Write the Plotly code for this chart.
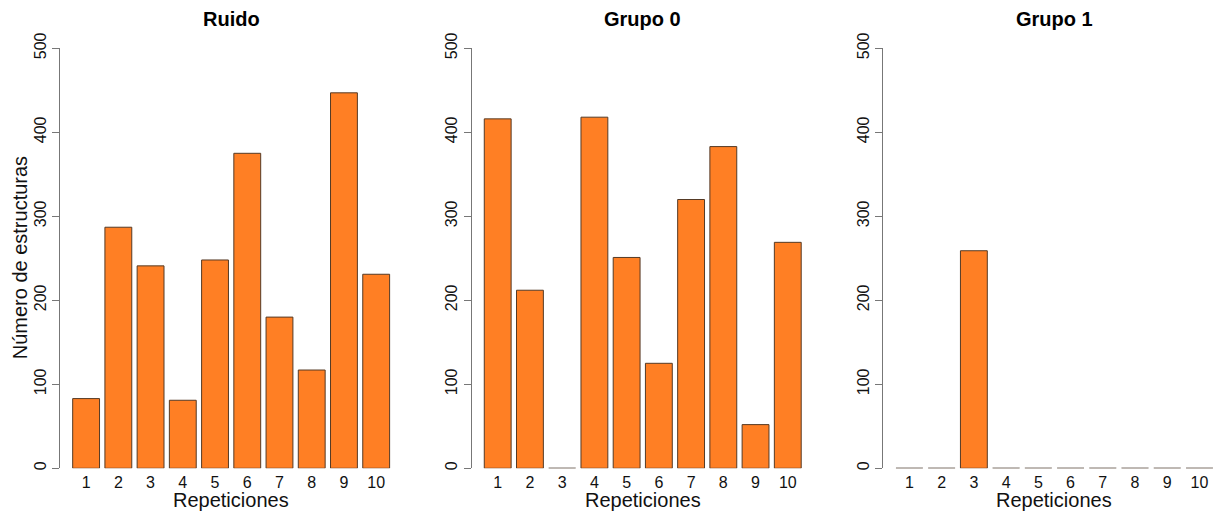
import plotly.graph_objects as go

W, H = 1222, 516

repeticiones = [1, 2, 3, 4, 5, 6, 7, 8, 9, 10]
ruido = [83, 287, 241, 81, 248, 375, 180, 117, 447, 231]
grupo0 = [416, 212, 0, 418, 251, 125, 320, 383, 52, 269]
grupo1 = [0, 0, 259, 0, 0, 0, 0, 0, 0, 0]
titles = ["Ruido", "Grupo 0", "Grupo 1"]
series = [ruido, grupo0, grupo1]
y_ticks = [0, 100, 200, 300, 400, 500]

FILL = "#FF7F24"
BORDER = "#553a25"
FONT = "Liberation Sans, Arial, Helvetica, sans-serif"

bar_w = 1 / 1.2
pad = 0.81
px_per_unit = 32.23
left_px = [60.0, 471.6, 883.3]
y_bot_px, y_top_px = 468.3, 48.3

fig = go.Figure()
layout = dict(
    width=W, height=H, margin=dict(l=0, r=0, t=0, b=0, autoexpand=False),
    paper_bgcolor="white", plot_bgcolor="white", showlegend=False,
    font=dict(family=FONT, color="#111"),
)
annotations = []
ydom = [(H - y_bot_px) / H, (H - y_top_px) / H]

for k, (vals, title) in enumerate(zip(series, titles)):
    xa = "x" if k == 0 else f"x{k+1}"
    ya = "y" if k == 0 else f"y{k+1}"
    full_right = left_px[k] + (len(repeticiones) - 1 + 2 * pad) * px_per_unit
    right = min(full_right, W)
    r0 = repeticiones[0] - pad
    r1 = r0 + (right - left_px[k]) / px_per_unit
    fig.add_trace(go.Bar(
        x=repeticiones, y=vals, width=bar_w, xaxis=xa, yaxis=ya,
        marker=dict(color=FILL, line=dict(color=BORDER, width=1)),
        hoverinfo="x+y",
    ))
    # zero-height bars drawn as thin lines, as R does
    for xi, v in zip(repeticiones, vals):
        if v == 0:
            fig.add_trace(go.Scatter(
                x=[xi - bar_w / 2, xi + bar_w / 2], y=[v, v], mode="lines",
                line=dict(color="#bbbbbb", width=1.5), xaxis=xa, yaxis=ya,
                hoverinfo="skip",
            ))
    xkey = "xaxis" if k == 0 else f"xaxis{k+1}"
    ykey = "yaxis" if k == 0 else f"yaxis{k+1}"
    layout[xkey] = dict(
        domain=[left_px[k] / W, right / W], range=[r0, r1], anchor=ya,
        tickvals=repeticiones, ticktext=[str(r) for r in repeticiones],
        showline=False, showgrid=False, zeroline=False, ticks="",
        tickfont=dict(size=16, family=FONT, color="#111"),
        ticklabelstandoff=3, automargin=False,
    )
    layout[ykey] = dict(
        domain=ydom, range=[0, 500], anchor=xa,
        tickvals=y_ticks, showline=True, linecolor="#777", linewidth=1,
        ticks="outside", ticklen=7, tickcolor="#777", tickwidth=1,
        showgrid=False, zeroline=False, tickangle=-90,
        tickfont=dict(size=16, family=FONT, color="#111"),
        automargin=False,
    )
    cx = (left_px[k] + full_right) / 2 / W
    annotations.append(dict(
        text=f"<b>{title}</b>", x=cx, y=(H - 19) / H, xref="paper", yref="paper",
        showarrow=False, xanchor="center", yanchor="middle",
        font=dict(size=20, family=FONT, color="#000"),
    ))
    annotations.append(dict(
        text="Repeticiones", x=cx, y=(H - 500) / H, xref="paper", yref="paper",
        showarrow=False, xanchor="center", yanchor="middle",
        font=dict(size=20, family=FONT, color="#111"),
    ))

annotations.append(dict(
    text="Número de estructuras", x=20 / W, y=(H - 258.3) / H,
    xref="paper", yref="paper", showarrow=False, textangle=-90,
    xanchor="center", yanchor="middle",
    font=dict(size=20, family=FONT, color="#111"),
))
layout["annotations"] = annotations
fig.update_layout(**layout)
fig.write_html("out.html")
